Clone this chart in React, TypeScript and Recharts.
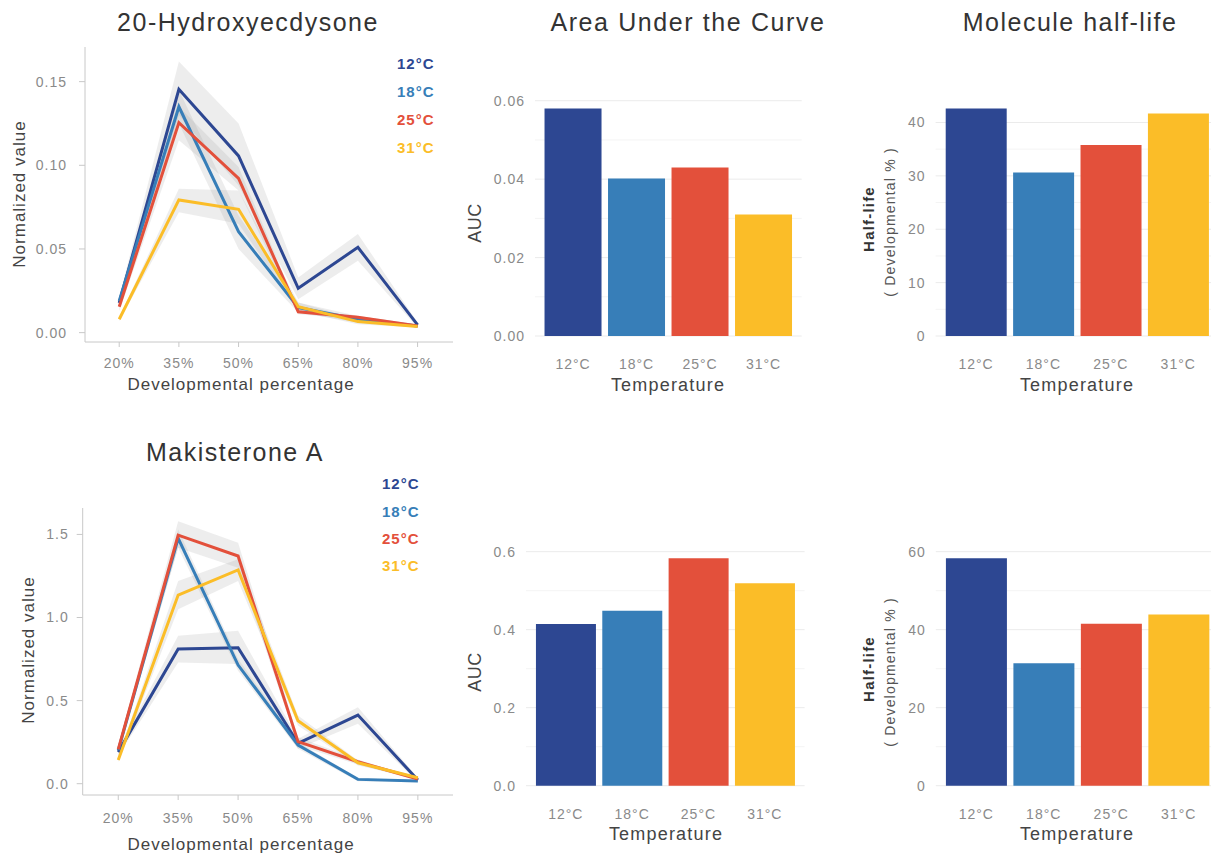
import React from 'react';
import {
  Area,
  Bar,
  BarChart,
  CartesianGrid,
  Cell,
  ComposedChart,
  Line,
  XAxis,
  YAxis,
} from 'recharts';

const FONT = '"Liberation Sans", Arial, Helvetica, sans-serif';

const temperatures = ['12°C', '18°C', '25°C', '31°C'];
const tempColors = ['#2d4792', '#377eb8', '#e3503b', '#fbbd28'];
const devPercent = [20, 35, 50, 65, 80, 95];

// 20-Hydroxyecdysone, one row per temperature (12, 18, 25, 31 °C)
const hydroxyMean = [
  [0.0177, 0.1454, 0.1056, 0.0265, 0.051, 0.0046],
  [0.019, 0.135, 0.0603, 0.015, 0.008, 0.004],
  [0.0155, 0.1255, 0.0922, 0.0125, 0.0092, 0.004],
  [0.008, 0.0793, 0.0737, 0.0155, 0.0066, 0.0036],
];
const hydroxyLow = [
  [0.015, 0.13, 0.088, 0.02, 0.043, 0.003],
  [0.017, 0.125, 0.05, 0.012, 0.006, 0.003],
  [0.013, 0.115, 0.085, 0.011, 0.008, 0.003],
  [0.007, 0.072, 0.065, 0.013, 0.005, 0.003],
];
const hydroxyHigh = [
  [0.021, 0.162, 0.125, 0.033, 0.059, 0.006],
  [0.021, 0.145, 0.07, 0.018, 0.01, 0.005],
  [0.018, 0.135, 0.099, 0.014, 0.01, 0.005],
  [0.009, 0.086, 0.085, 0.018, 0.008, 0.004],
];

// Makisterone A
const makiMean = [
  [0.19, 0.81, 0.818, 0.243, 0.413, 0.022],
  [0.2, 1.477, 0.714, 0.233, 0.026, 0.016],
  [0.207, 1.496, 1.37, 0.253, 0.132, 0.028],
  [0.143, 1.135, 1.286, 0.379, 0.126, 0.036],
];
const makiLow = [
  [0.17, 0.73, 0.72, 0.21, 0.36, 0.01],
  [0.18, 1.42, 0.68, 0.21, 0.015, 0.008],
  [0.19, 1.42, 1.3, 0.23, 0.115, 0.02],
  [0.13, 1.05, 1.22, 0.35, 0.11, 0.03],
];
const makiHigh = [
  [0.21, 0.89, 0.92, 0.27, 0.46, 0.035],
  [0.22, 1.53, 0.75, 0.25, 0.035, 0.022],
  [0.23, 1.58, 1.45, 0.28, 0.145, 0.035],
  [0.16, 1.22, 1.35, 0.41, 0.14, 0.042],
];

const aucHydroxy = [0.058, 0.0402, 0.043, 0.031];
const halfLifeHydroxy = [42.6, 30.65, 35.8, 41.7];
const aucMaki = [0.4146, 0.4487, 0.583, 0.519];
const halfLifeMaki = [58.3, 31.4, 41.5, 43.9];

const hydroxyTicks = [0, 0.05, 0.1, 0.15];
const makiTicks = [0, 0.5, 1, 1.5];
const aucHydroxyTicks = [0, 0.02, 0.04, 0.06];
const aucHydroxyMinor = [0.01, 0.03, 0.05];
const halfHydroxyTicks = [0, 10, 20, 30, 40];
const halfHydroxyMinor = [5, 15, 25, 35];
const aucMakiTicks = [0, 0.2, 0.4, 0.6];
const aucMakiMinor = [0.1, 0.3, 0.5];
const halfMakiTicks = [0, 20, 40, 60];
const halfMakiMinor = [10, 30, 50];

function buildRows(mean: number[][], low: number[][], high: number[][]) {
  return devPercent.map((pct, i) => {
    const row: Record<string, any> = { pct };
    temperatures.forEach((_, k) => {
      row[`m${k}`] = mean[k][i];
      row[`b${k}`] = [low[k][i], high[k][i]];
    });
    return row;
  });
}

type TxtProps = {
  x: number;
  y: number;
  size: number;
  color?: string;
  bold?: boolean;
  spacing?: number;
  rotate?: boolean;
  align?: 'center' | 'left';
  children: React.ReactNode;
};

function Txt({ x, y, size, color = '#333', bold, spacing = 0, rotate, align = 'center', children }: TxtProps) {
  const shift = align === 'center' ? 'translate(-50%, -50%)' : 'translate(0, -50%)';
  return (
    <div
      style={{
        position: 'absolute',
        left: x,
        top: y,
        fontFamily: FONT,
        fontSize: size,
        fontWeight: bold ? 700 : 400,
        color,
        letterSpacing: spacing,
        lineHeight: 1,
        whiteSpace: 'nowrap',
        transform: rotate ? `${shift} rotate(-90deg)` : shift,
      }}
    >
      {children}
    </div>
  );
}

function TempLegend({ x, y, step }: { x: number; y: number; step: number }) {
  return (
    <>
      {temperatures.map((t, k) => (
        <Txt key={t} x={x} y={y + k * step} size={15} bold spacing={1} color={tempColors[k]} align='left'>
          {t}
        </Txt>
      ))}
    </>
  );
}

type TrendProps = {
  left: number;
  top: number;
  width: number;
  height: number;
  margin: { top: number; right: number; bottom: number; left: number };
  rows: Record<string, any>[];
  yDomain: [number, number];
  yTicks: number[];
  digits: number;
  xDomain: [number, number];
  yMargin: number;
  xMargin: number;
};

function TrendPanel(p: TrendProps) {
  const tick = { fill: '#8a8a8a', fontSize: 14, fontFamily: FONT, letterSpacing: 1 };
  return (
    <div style={{ position: 'absolute', left: p.left, top: p.top }}>
      <ComposedChart width={p.width} height={p.height} data={p.rows} margin={p.margin}>
        <XAxis
          type='number'
          dataKey='pct'
          domain={p.xDomain}
          ticks={devPercent}
          tickFormatter={(v) => `${v}%`}
          allowDataOverflow
          height={30}
          tick={tick}
          tickSize={5}
          tickMargin={p.xMargin}
          axisLine={{ stroke: '#c8c8c8' }}
          tickLine={{ stroke: '#c8c8c8' }}
        />
        <YAxis
          type='number'
          domain={p.yDomain}
          ticks={p.yTicks}
          tickFormatter={(v) => Number(v).toFixed(p.digits)}
          allowDataOverflow
          width={60}
          tick={tick}
          tickSize={6}
          tickMargin={p.yMargin}
          axisLine={{ stroke: '#c8c8c8' }}
          tickLine={{ stroke: '#c8c8c8' }}
        />
        {temperatures.map((t, k) => (
          <Area
            key={`band-${t}`}
            type='linear'
            dataKey={`b${k}`}
            stroke='none'
            fill='#999999'
            fillOpacity={0.18}
            isAnimationActive={false}
          />
        ))}
        {temperatures.map((t, k) => (
          <Line
            key={`line-${t}`}
            type='linear'
            dataKey={`m${k}`}
            stroke={tempColors[k]}
            strokeWidth={3}
            dot={false}
            isAnimationActive={false}
          />
        ))}
      </ComposedChart>
    </div>
  );
}

type BarProps = {
  left: number;
  top: number;
  width: number;
  height: number;
  margin: { top: number; right: number; bottom: number; left: number };
  axisWidth: number;
  values: number[];
  yDomain: [number, number];
  yTicks: number[];
  minor: number[];
  digits: number;
  pad: number;
};

function BarPanel(p: BarProps) {
  const rows = temperatures.map((t, i) => ({ temp: t, value: p.values[i] }));
  const tick = { fill: '#8a8a8a', fontSize: 14, fontFamily: FONT, letterSpacing: 1 };
  return (
    <div style={{ position: 'absolute', left: p.left, top: p.top }}>
      <BarChart width={p.width} height={p.height} data={rows} margin={p.margin} barCategoryGap='5%'>
        {/* minor lines first, then the major ones at the axis ticks only */}
        <CartesianGrid vertical={false} horizontalValues={p.minor} stroke='#f4f4f4' />
        <CartesianGrid vertical={false} horizontalValues={p.yTicks} syncWithTicks stroke='#ebebeb' />
        <XAxis
          dataKey='temp'
          axisLine={false}
          tickLine={false}
          padding={{ left: p.pad, right: p.pad }}
          height={30}
          tick={tick}
          tickSize={6}
          tickMargin={6}
        />
        <YAxis
          type='number'
          domain={p.yDomain}
          ticks={p.yTicks}
          tickFormatter={(v) => Number(v).toFixed(p.digits)}
          allowDataOverflow
          axisLine={false}
          tickLine={false}
          width={p.axisWidth}
          tick={tick}
          tickSize={6}
          tickMargin={4}
        />
        <Bar dataKey='value' isAnimationActive={false}>
          {rows.map((r, i) => (
            <Cell key={r.temp} fill={tempColors[i]} />
          ))}
        </Bar>
      </BarChart>
    </div>
  );
}

export default function App() {
  const hydroxyRows = buildRows(hydroxyMean, hydroxyLow, hydroxyHigh);
  const makiRows = buildRows(makiMean, makiLow, makiHigh);

  return (
    <div
      style={{
        position: 'absolute',
        left: 0,
        top: 0,
        width: 1211,
        height: 855,
        overflow: 'hidden',
        background: '#ffffff',
      }}
    >
      {/* row 1: 20-Hydroxyecdysone */}
      <TrendPanel
        left={0}
        top={0}
        width={470}
        height={400}
        margin={{ top: 47, right: 17, bottom: 28, left: 25 }}
        rows={hydroxyRows}
        yDomain={[-0.0056, 0.1707]}
        yTicks={hydroxyTicks}
        digits={2}
        xDomain={[11.4, 103.9]}
        yMargin={12}
        xMargin={11}
      />
      <BarPanel
        left={460}
        top={60}
        width={360}
        height={340}
        margin={{ top: 37.2, right: 18.3, bottom: 22.6, left: 25 }}
        axisWidth={50}
        values={aucHydroxy}
        yDomain={[-0.0029, 0.0609]}
        yTicks={aucHydroxyTicks}
        minor={aucHydroxyMinor}
        digits={2}
        pad={6.35}
      />
      <BarPanel
        left={860}
        top={60}
        width={380}
        height={340}
        margin={{ top: 37.2, right: 21.3, bottom: 22.6, left: 25.6 }}
        axisWidth={50}
        values={halfLifeHydroxy}
        yDomain={[-2.13, 44.73]}
        yTicks={halfHydroxyTicks}
        minor={halfHydroxyMinor}
        digits={0}
        pad={6.74}
      />

      {/* row 2: Makisterone A */}
      <TrendPanel
        left={0}
        top={450}
        width={470}
        height={405}
        margin={{ top: 58, right: 17, bottom: 30, left: 22.7 }}
        rows={makiRows}
        yDomain={[-0.068, 1.659]}
        yTicks={makiTicks}
        digits={1}
        xDomain={[11.1, 103.8]}
        yMargin={8}
        xMargin={13}
      />
      <BarPanel
        left={460}
        top={510}
        width={360}
        height={345}
        margin={{ top: 37, right: 15.4, bottom: 28, left: 21 }}
        axisWidth={45}
        values={aucMaki}
        yDomain={[-0.029, 0.612]}
        yTicks={aucMakiTicks}
        minor={aucMakiMinor}
        digits={1}
        pad={6.63}
      />
      <BarPanel
        left={860}
        top={510}
        width={380}
        height={345}
        margin={{ top: 37, right: 20.8, bottom: 28, left: 25.8 }}
        axisWidth={50}
        values={halfLifeMaki}
        yDomain={[-2.9, 61.2]}
        yTicks={halfMakiTicks}
        minor={halfMakiMinor}
        digits={0}
        pad={6.75}
      />

      {/* titles */}
      <Txt x={248} y={22} size={25} spacing={1.5} color='#333'>20-Hydroxyecdysone</Txt>
      <Txt x={688} y={22} size={25} spacing={1.6} color='#333'>Area Under the Curve</Txt>
      <Txt x={1070} y={22} size={25} spacing={1.5} color='#333'>Molecule half-life</Txt>
      <Txt x={235} y={452} size={25} spacing={1.5} color='#333'>Makisterone A</Txt>

      {/* legends */}
      <TempLegend x={397} y={63.3} step={27.8} />
      <TempLegend x={382} y={483.3} step={27.2} />

      {/* axis titles, row 1 */}
      <Txt x={19} y={194} size={17} spacing={1} color='#444' rotate>Normalized value</Txt>
      <Txt x={241} y={384} size={17} spacing={1} color='#444'>Developmental percentage</Txt>
      <Txt x={475} y={223} size={18} spacing={0.5} color='#444' rotate>AUC</Txt>
      <Txt x={668} y={385} size={18} spacing={1.2} color='#444'>Temperature</Txt>
      <Txt x={868} y={219} size={15} spacing={1.2} bold color='#333' rotate>Half-life</Txt>
      <Txt x={890} y={222} size={14} spacing={1.2} color='#555' rotate>( Developmental % )</Txt>
      <Txt x={1077} y={385} size={18} spacing={1.2} color='#444'>Temperature</Txt>

      {/* axis titles, row 2 */}
      <Txt x={27.5} y={650} size={17} spacing={1} color='#444' rotate>Normalized value</Txt>
      <Txt x={241} y={844} size={17} spacing={1} color='#444'>Developmental percentage</Txt>
      <Txt x={475} y={672} size={18} spacing={0.5} color='#444' rotate>AUC</Txt>
      <Txt x={666} y={834} size={18} spacing={1.2} color='#444'>Temperature</Txt>
      <Txt x={868} y={669} size={15} spacing={1.2} bold color='#333' rotate>Half-life</Txt>
      <Txt x={890} y={672} size={14} spacing={1.2} color='#555' rotate>( Developmental % )</Txt>
      <Txt x={1077} y={834} size={18} spacing={1.2} color='#444'>Temperature</Txt>
    </div>
  );
}
